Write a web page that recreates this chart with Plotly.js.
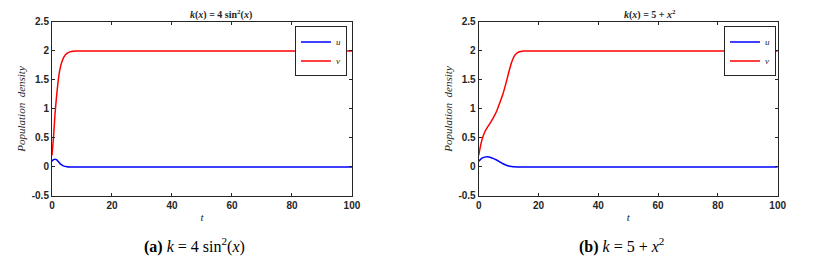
<!DOCTYPE html>
<html><head><meta charset="utf-8">
<script src="https://cdn.plot.ly/plotly-3.0.1.min.js"></script>
<style>html,body{margin:0;padding:0;background:#fff;}#chart{width:817px;height:257px;}</style>
</head><body><div id="chart"></div>
<script>
// Panel (a): k(x) = 4 sin^2(x)
const tA = [0, 0.5, 1, 1.5, 2, 2.5, 3, 3.5, 4, 5, 6, 7, 8, 10, 100];
const uA = [0.1, 0.125, 0.135, 0.125, 0.1, 0.07, 0.045, 0.028, 0.015, 0.005, 0.001, 0, 0, 0, 0];
const vA = [0.2, 0.5, 0.9, 1.2, 1.45, 1.64, 1.76, 1.84, 1.9, 1.96, 1.985, 1.997, 2, 2, 2];
// Panel (b): k(x) = 5 + x^2
const tB = [0, 1, 2, 3, 4, 5, 6, 7, 8, 9, 10, 11, 12, 13, 14, 15, 20, 100];
const uB = [0.1, 0.15, 0.17, 0.175, 0.165, 0.145, 0.12, 0.09, 0.06, 0.035, 0.018, 0.008, 0.003, 0.001, 0, 0, 0, 0];
const vB = [0.2, 0.45, 0.6, 0.69, 0.77, 0.86, 0.96, 1.1, 1.24, 1.42, 1.62, 1.8, 1.92, 1.97, 1.99, 2, 2, 2];

const yTickVals = [-0.5, 0, 0.5, 1, 1.5, 2, 2.5];
const yTickText = ['-0.5', '0', '0.5', '1', '1.5', '2', '2.5'];
const xTickVals = [0, 20, 40, 60, 80, 100];
const xTickText = ['0', '20', '40', '60', '80', '100'];

const titleA = '<b><i>k</i>(<i>x</i>) = 4 sin<sup>2</sup>(<i>x</i>)</b>';
const titleB = '<b><i>k</i>(<i>x</i>) = 5 + <i>x</i><sup>2</sup></b>';
const capA = '<b>(a)</b> <i>k</i> = 4 sin<sup>2</sup>(<i>x</i>)';
const capB = '<b>(b)</b> <i>k</i> = 5 + <i>x</i><sup>2</sup>';

const lineStyle = (c) => ({color: c, width: 1.5, shape: 'spline', smoothing: 0.6});
const data = [
  {x: tA, y: uA, name: '<i>u</i>', mode: 'lines', line: lineStyle('#0000ff'), xaxis: 'x', yaxis: 'y', legend: 'legend'},
  {x: tA, y: vA, name: '<i>v</i>', mode: 'lines', line: lineStyle('#ff0000'), xaxis: 'x', yaxis: 'y', legend: 'legend'},
  {x: tB, y: uB, name: '<i>u</i>', mode: 'lines', line: lineStyle('#0000ff'), xaxis: 'x2', yaxis: 'y2', legend: 'legend2'},
  {x: tB, y: vB, name: '<i>v</i>', mode: 'lines', line: lineStyle('#ff0000'), xaxis: 'x2', yaxis: 'y2', legend: 'legend2'}
];

const tickFont = {family: 'Liberation Sans, Arial', size: 10, color: '#262626', weight: 'bold'};
const serif = 'Liberation Serif, Times New Roman, serif';
function xax(dom, anchor) {
  return {domain: dom, anchor: anchor, range: [0, 100], tickvals: xTickVals, ticktext: xTickText,
    ticks: 'inside', ticklen: 3, tickcolor: '#262626', showline: true, linecolor: '#262626', linewidth: 1,
    mirror: 'allticks', showgrid: false, zeroline: false, tickfont: tickFont,
    title: {text: '<i>t</i>', font: {family: serif, size: 11, color: '#262626'}, standoff: 3}};
}
function yax(anchor) {
  return {domain: [0.2374, 0.9144], anchor: anchor, range: [-0.5, 2.5], tickvals: yTickVals, ticktext: yTickText,
    ticks: 'inside', ticklen: 3, tickcolor: '#262626', showline: true, linecolor: '#262626', linewidth: 1,
    mirror: 'allticks', showgrid: false, zeroline: false, tickfont: tickFont,
    title: {text: '<i>Population  density</i>', font: {family: serif, size: 11, color: '#262626'}, standoff: 3}};
}
const legendStyle = (x) => ({x: x, y: 0.897, xanchor: 'right', yanchor: 'top', xref: 'paper', yref: 'paper',
  bgcolor: '#fff', bordercolor: '#262626', borderwidth: 1, font: {family: serif, size: 9, color: '#262626'},
  itemwidth: 30, tracegroupgap: 0});

const layout = {
  width: 817, height: 257, margin: {l: 0, r: 0, t: 0, b: 0},
  paper_bgcolor: '#fff', plot_bgcolor: '#fff', showlegend: true,
  xaxis: xax([0.0636, 0.4308], 'y'), yaxis: yax('x'),
  xaxis2: xax([0.5859, 0.9519], 'y2'), yaxis2: yax('x2'),
  legend: legendStyle(0.4247), legend2: legendStyle(0.9498),
  annotations: [
    {text: titleA, x: 0.2705, y: 0.945, xref: 'paper', yref: 'paper', xanchor: 'center', yanchor: 'middle', showarrow: false, font: {family: serif, size: 10, color: '#262626'}},
    {text: titleB, x: 0.7962, y: 0.945, xref: 'paper', yref: 'paper', xanchor: 'center', yanchor: 'middle', showarrow: false, font: {family: serif, size: 10, color: '#262626'}},
    {text: capA, x: 0.2375, y: 0.045, xref: 'paper', yref: 'paper', xanchor: 'center', yanchor: 'middle', showarrow: false, font: {family: serif, size: 16, color: '#000'}},
    {text: capB, x: 0.7613, y: 0.045, xref: 'paper', yref: 'paper', xanchor: 'center', yanchor: 'middle', showarrow: false, font: {family: serif, size: 16, color: '#000'}}
  ]
};
Plotly.newPlot('chart', data, layout, {staticPlot: true, displayModeBar: false});
</script></body></html>
